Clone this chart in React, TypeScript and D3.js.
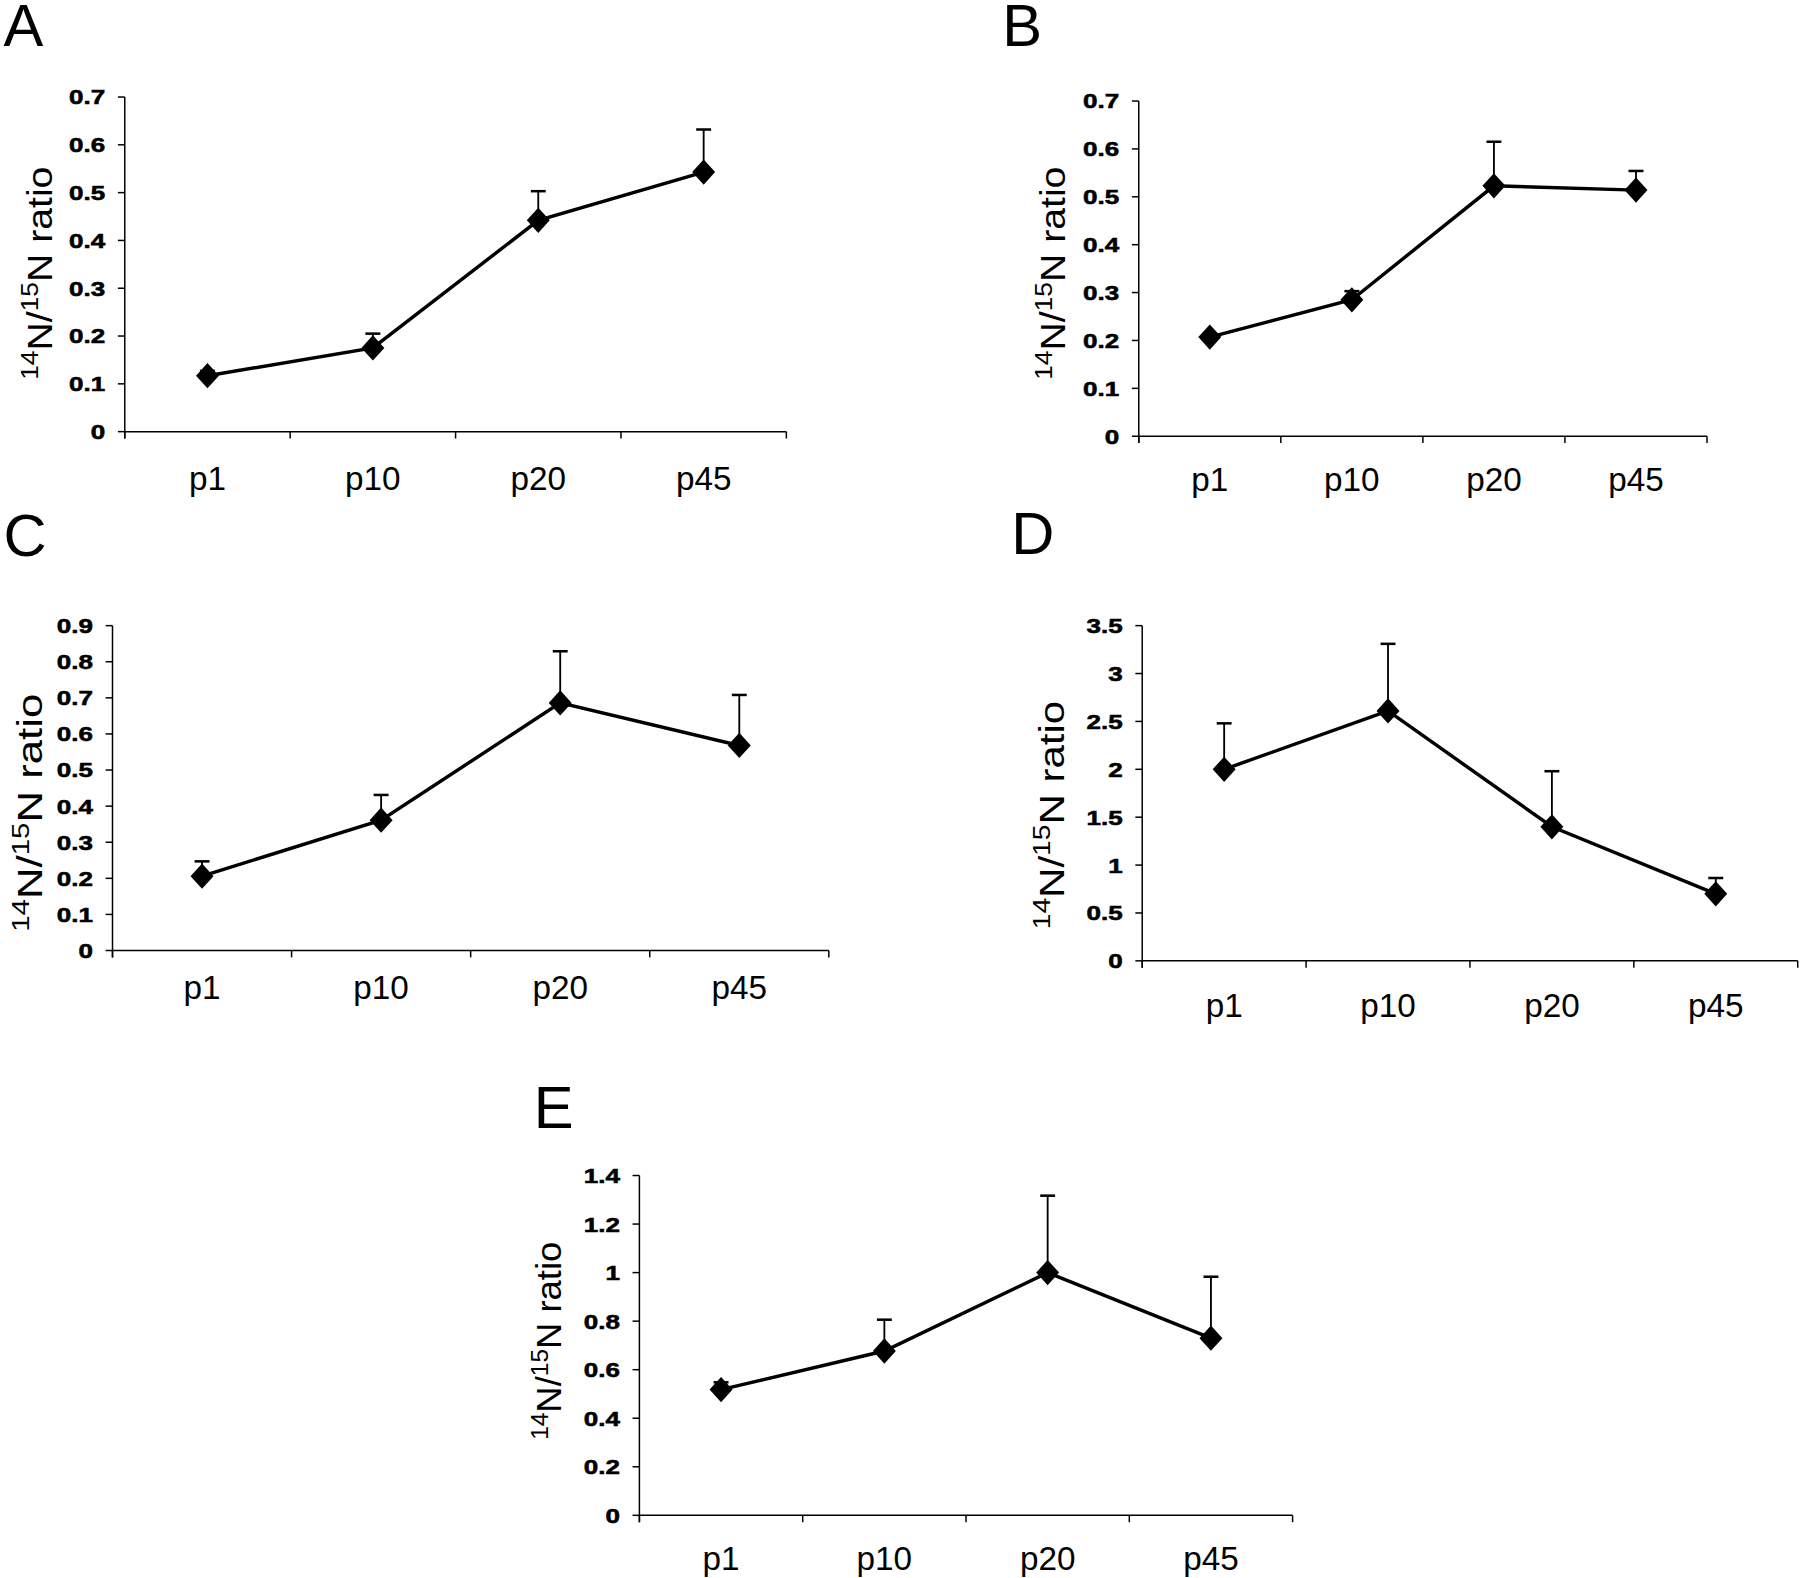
import React from "react";
import * as d3 from "d3";

// ---------- data ----------
const categories = ["p1", "p10", "p20", "p45"];
const panelLetters = ["A", "B", "C", "D", "E"];

const meanA = [0.117, 0.175, 0.442, 0.543];
const upperA = [0.127, 0.205, 0.503, 0.632];
const ticksA = [0, 0.1, 0.2, 0.3, 0.4, 0.5, 0.6, 0.7];

const meanB = [0.207, 0.285, 0.523, 0.514];
const upperB = [0.207, 0.303, 0.615, 0.554];
const ticksB = [0, 0.1, 0.2, 0.3, 0.4, 0.5, 0.6, 0.7];

const meanC = [0.206, 0.361, 0.686, 0.568];
const upperC = [0.247, 0.431, 0.829, 0.708];
const ticksC = [0, 0.1, 0.2, 0.3, 0.4, 0.5, 0.6, 0.7, 0.8, 0.9];

const meanD = [2.0, 2.61, 1.4, 0.7];
const upperD = [2.48, 3.31, 1.98, 0.865];
const ticksD = [0, 0.5, 1, 1.5, 2, 2.5, 3, 3.5];

const meanE = [0.518, 0.677, 1.0, 0.73];
const upperE = [0.548, 0.806, 1.317, 0.983];
const ticksE = [0, 0.2, 0.4, 0.6, 0.8, 1, 1.2, 1.4];

const means = [meanA, meanB, meanC, meanD, meanE];
const uppers = [upperA, upperB, upperC, upperD, upperE];
const tickSets = [ticksA, ticksB, ticksC, ticksD, ticksE];

// ---------- layout (display units, viewBox 1568 wide) ----------
// ylb: baseline x of rotated axis title, yly: its centre, yls: stretch along text
const layouts = [
  { x0: 108.7, x1: 685, yTop: 84.5, yBot: 376, catOff: 51, ylb: 45, yly: 238, yls: 1.12, lx: 3, ly: 40 },
  { x0: 992, x1: 1487, yTop: 88, yBot: 380, catOff: 48, ylb: 928, yly: 238, yls: 1.12, lx: 873, ly: 40 },
  { x0: 98, x1: 722, yTop: 545, yBot: 828, catOff: 42, ylb: 37, yly: 708, yls: 1.25, lx: 3, ly: 484 },
  { x0: 995, x1: 1566, yTop: 545, yBot: 837, catOff: 49, ylb: 927, yly: 710, yls: 1.2, lx: 881, ly: 483 },
  { x0: 557, x1: 1126, yTop: 1024, yBot: 1320, catOff: 48, ylb: 489, yly: 1168, yls: 1.04, lx: 465, ly: 983 },
];

const FONT = "'Liberation Sans', Arial, Helvetica, sans-serif";
const fmt = (v: number) => String(Math.round(v * 10) / 10);

function Panel({ idx }: { idx: number }) {
  const L = layouts[idx];
  const ticks = tickSets[idx];
  const mean = means[idx];
  const upper = uppers[idx];
  const x = d3.scaleBand<string>().domain(categories).range([L.x0, L.x1]).padding(0);
  const y = d3
    .scaleLinear()
    .domain([0, d3.max(ticks) as number])
    .range([L.yBot, L.yTop]);
  const cx = (c: string) => (x(c) as number) + x.bandwidth() / 2;
  const pts: [number, number][] = categories.map((c, i) => [cx(c), y(mean[i])]);
  const line = d3.line()(pts) as string;
  const bounds = [...categories.map((c) => x(c) as number), L.x1];
  const w = 10;
  const h = 11;
  const cap = 6.5;
  return (
    <g>
      <text x={L.lx} y={L.ly} fontFamily={FONT} fontSize={52} fill="#000">
        {panelLetters[idx]}
      </text>
      {/* y axis */}
      <line x1={L.x0} x2={L.x0} y1={L.yTop} y2={L.yBot + 6} stroke="#000" strokeWidth={1.3} />
      {ticks.map((t) => (
        <g key={t}>
          <line x1={L.x0 - 6} x2={L.x0} y1={y(t)} y2={y(t)} stroke="#000" strokeWidth={1.3} />
          <text
            transform={`translate(${L.x0 - 17},${y(t)}) scale(1.26,1)`}
            dy="0.36em"
            textAnchor="end"
            fontFamily={FONT}
            fontWeight="bold"
            fontSize={18}
            fill="#000"
            stroke="#000"
            strokeWidth={0.5}
          >
            {fmt(t)}
          </text>
        </g>
      ))}
      {/* x axis */}
      <line x1={L.x0} x2={L.x1} y1={L.yBot} y2={L.yBot} stroke="#000" strokeWidth={1.3} />
      {bounds.map((b, i) => (
        <line key={i} x1={b} x2={b} y1={L.yBot} y2={L.yBot + 6} stroke="#000" strokeWidth={1.3} />
      ))}
      {categories.map((c) => (
        <text
          key={c}
          x={cx(c)}
          y={L.yBot + L.catOff}
          textAnchor="middle"
          fontFamily={FONT}
          fontSize={29}
          fill="#000"
        >
          {c}
        </text>
      ))}
      {/* y label */}
      <text
        transform={`translate(${L.ylb},${L.yly}) rotate(-90) scale(${L.yls},1)`}
        textAnchor="middle"
        fontFamily={FONT}
        fontSize={30.5}
        fill="#000"
      >
        <tspan fontSize={20.5} dy="-12">14</tspan>
        <tspan dy="12">N/</tspan>
        <tspan fontSize={20.5} dy="-12">15</tspan>
        <tspan dy="12">N ratio</tspan>
      </text>
      {/* error bars */}
      {categories.map((c, i) =>
        upper[i] > mean[i] ? (
          <g key={c}>
            <line x1={cx(c)} x2={cx(c)} y1={y(mean[i])} y2={y(upper[i])} stroke="#000" strokeWidth={1.6} />
            <line x1={cx(c) - cap} x2={cx(c) + cap} y1={y(upper[i])} y2={y(upper[i])} stroke="#000" strokeWidth={2.2} />
          </g>
        ) : null
      )}
      <path d={line} fill="none" stroke="#000" strokeWidth={3} />
      {pts.map(([px, py], i) => (
        <path
          key={i}
          d={`M${px},${py - h}L${px + w},${py}L${px},${py + h}L${px - w},${py}Z`}
          fill="#000"
        />
      ))}
    </g>
  );
}

export default function App() {
  return (
    <svg
      width={1800}
      height={1578}
      viewBox="0 0 1568 1374.6"
      style={{ position: "absolute", left: 0, top: 0, background: "#fff" }}
    >
      <rect x={0} y={0} width={1568} height={1374.6} fill="#fff" />
      {layouts.map((_, i) => (
        <Panel key={i} idx={i} />
      ))}
    </svg>
  );
}
